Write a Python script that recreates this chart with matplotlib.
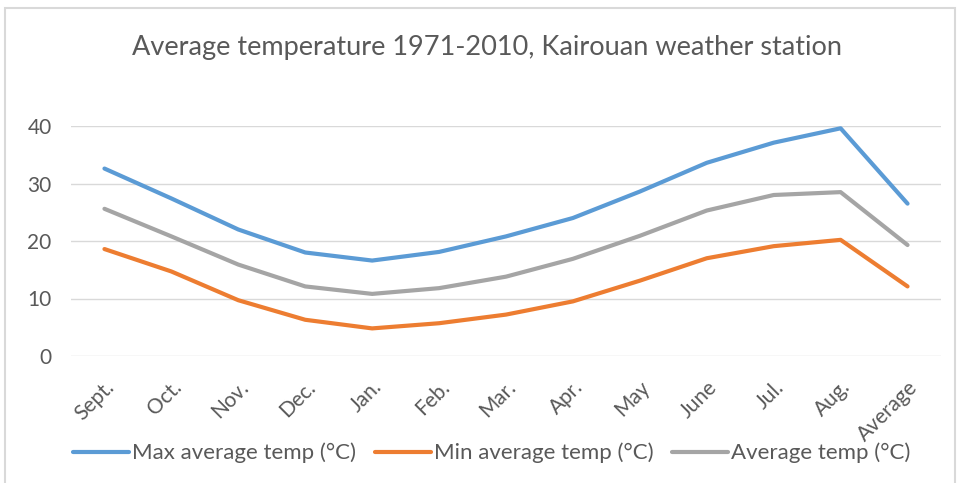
import matplotlib
matplotlib.use("Agg")
import matplotlib.pyplot as plt
from matplotlib.patches import Rectangle

months = ["Sept.", "Oct.", "Nov.", "Dec.", "Jan.", "Feb.", "Mar.", "Apr.",
          "May", "June", "Jul.", "Aug.", "Average"]
max_temp = [32.6, 27.4, 22.0, 18.0, 16.6, 18.1, 20.8, 24.0, 28.6, 33.6, 37.1, 39.6, 26.5]
min_temp = [18.6, 14.7, 9.7, 6.3, 4.8, 5.7, 7.2, 9.5, 13.1, 17.0, 19.1, 20.2, 12.1]
avg_temp = [25.6, 20.8, 15.9, 12.1, 10.8, 11.8, 13.8, 16.9, 20.9, 25.3, 28.0, 28.5, 19.3]

labels = ["Max average temp (°C)", "Min average temp (°C)", "Average temp (°C)"]
colors = ["#5B9BD5", "#ED7D31", "#A5A5A5"]

plt.rcParams["font.family"] = ["Lato", "DejaVu Sans"]

fig = plt.figure(figsize=(9.59, 4.83), dpi=100)
fig.patches.append(Rectangle((5 / 959, -0.1), 950 / 959, 1.1 - 8 / 483,
                             transform=fig.transFigure, fill=False,
                             edgecolor="#d9d9d9", linewidth=1.5))
ax = fig.add_axes([71 / 959, 1 - 356 / 483, 870 / 959, 230 / 483])

x = range(len(months))
for ys, lab, col in zip([max_temp, min_temp, avg_temp], labels, colors):
    ax.plot(x, ys, color=col, linewidth=3, label=lab, clip_on=False,
            solid_capstyle="round", solid_joinstyle="round")

ax.set_xlim(-0.5, len(months) - 0.5)
ax.set_ylim(0, 40)
ax.set_yticks([0, 10, 20, 30, 40])
ax.grid(axis="y", color="#d9d9d9", linewidth=1)
ax.set_axisbelow(True)
for s in ax.spines.values():
    s.set_visible(False)
ax.tick_params(axis="both", length=0, colors="#595959", labelsize=15)
ax.tick_params(axis="y", pad=14)
ax.set_xticks(list(x))
ax.set_xticklabels(months, rotation=45, ha="right", va="top",
                   rotation_mode="anchor", fontsize=15)
ax.tick_params(axis="x", pad=15)

fig.text(0.508, 1 - 47 / 483, "Average temperature 1971-2010, Kairouan weather station",
         ha="center", va="center", fontsize=19.5, color="#595959")

fig.legend(loc="center", bbox_to_anchor=(0.513, 1 - 453 / 483), ncol=3,
           frameon=False, fontsize=16, labelcolor="#595959",
           handlelength=2.5, handletextpad=0.15, columnspacing=0.85)

fig.savefig("out.png", dpi=100, facecolor="white")
